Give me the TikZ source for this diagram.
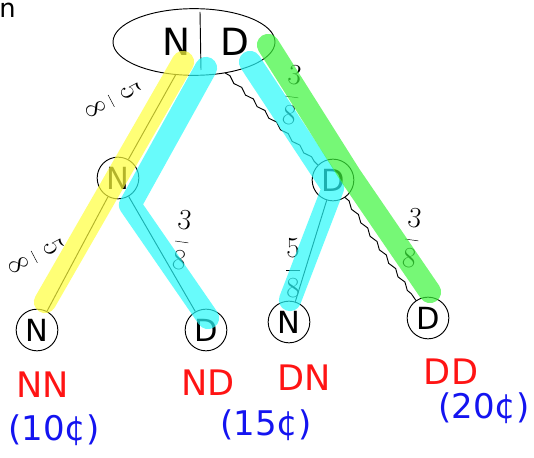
\documentclass[tikz,border=0pt]{standalone}
\usepackage{fontspec}
\setmainfont{DejaVu Sans}
\usetikzlibrary{shapes.geometric, decorations.pathmorphing}

\definecolor{hlyellow}{RGB}{255,255,60}
\definecolor{hlcyan}{RGB}{40,250,250}
\definecolor{hlgreen}{RGB}{60,245,60}
\definecolor{inkred}{RGB}{255,20,20}
\definecolor{inkblue}{RGB}{20,20,240}

\tikzset{
    coin/.style={circle, draw, thick, minimum size=1.25cm, inner sep=0pt, font=\fontsize{26}{28}\selectfont},
    prob/.style={font=\Huge, inner sep=1pt},
    pair/.style={text=inkred, font=\fontsize{30}{32}\selectfont},
    cents/.style={text=inkblue, font=\fontsize{29}{31}\selectfont},
    hl/.style={line width=19pt, line cap=round, line join=round, opacity=0.7},
    wobble/.style={decorate, decoration={snake, amplitude=1.2pt, segment length=14pt}}
}

\begin{document}
\begin{tikzpicture}[x=0.03cm, y=-0.03cm, thick]

    \useasboundingbox (0,0) rectangle (534,458);

    \node[anchor=north west, inner sep=0pt, font=\fontsize{22}{24}\selectfont] (cut) at (-1,3) {n};

    % first draw: which coin
    \node[ellipse, draw, thick, minimum width=4.86cm, minimum height=2cm] (root) at (194,42) {};
    \node[font=\fontsize{32}{34}\selectfont] (rN) at (177,42) {N};
    \node[font=\fontsize{32}{34}\selectfont] (rD) at (235,42) {D};
    \coordinate (bartop) at (200,12);
    \coordinate (barbot) at (201,70);
    \draw (bartop) -- (barbot);

    \node[coin] (n1) at (118,178) {N};
    \node[coin] (d1) at (333,180) {D};

    % second draw
    \node[coin] (nn) at (37,330) {N};
    \node[coin] (nd) at (206,330) {D};
    \node[coin] (dn) at (289,322) {N};
    \node[coin] (dd) at (428,318) {D};

    \draw (root) -- (n1);
    \draw[wobble] (root) -- (d1);
    \draw (n1) -- (nn);
    \draw (n1) -- (nd);
    \draw (d1) -- (dn);
    \draw[wobble] (d1) -- (dd);

    \node[prob, rotate=-62] (p1) at (113,100) {$\displaystyle\frac{5}{8}$};
    \node[prob, rotate=-8] (p2) at (292,95) {$\displaystyle\frac{3}{8}$};
    \node[prob, rotate=-62] (p3) at (36,256) {$\displaystyle\frac{5}{8}$};
    \node[prob, rotate=-8] (p4) at (182,240) {$\displaystyle\frac{3}{8}$};
    \node[prob] (p5) at (293,268) {$\displaystyle\frac{5}{8}$};
    \node[prob, rotate=-8] (p6) at (412,238) {$\displaystyle\frac{3}{8}$};

    % outcomes
    \foreach \name/\txt/\x/\y in {nnt/NN/43/385, ndt/ND/208/383, dnt/DN/304/378, ddt/DD/451/372} {
        \node[pair] (\name) at (\x,\y) {\txt};
    }
    \node[cents] (c1) at (54,430) {(10¢)};
    \node[cents] (c2) at (266,425) {(15¢)};
    \node[cents] (c3) at (484,408) {(20¢)};

    % highlighted paths
    \coordinate (y0) at (183,62);
    \coordinate (y1) at (45,302);
    \draw[hl, hlyellow] (y0) -- (y1);

    \coordinate (a0) at (206,68);
    \coordinate (a1) at (130,205);
    \coordinate (a2) at (208,318);
    \draw[hl, hlcyan] (a0) -- (a1) -- (a2);

    \coordinate (b0) at (250,62);
    \coordinate (b1) at (333,188);
    \coordinate (b2) at (290,300);
    \draw[hl, hlcyan] (b0) -- (b1) -- (b2);

    \coordinate (g0) at (268,45);
    \coordinate (g1) at (350,175);
    \coordinate (g2) at (430,292);
    \draw[hl, hlgreen] (g0) -- (g1) -- (g2);

\end{tikzpicture}
\end{document}
